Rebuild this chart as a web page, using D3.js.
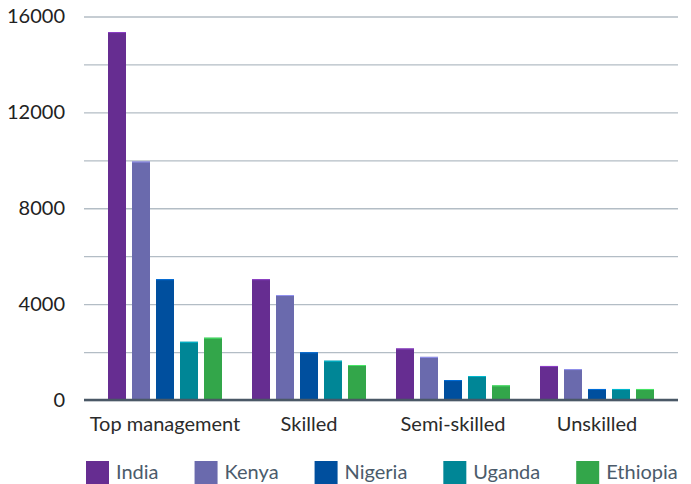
<!DOCTYPE html>
<html>
<head>
<meta charset="utf-8">
<script src="https://cdn.jsdelivr.net/npm/d3@7"></script>
<style>
  body { margin: 0; background: #fff; }
  svg text { font-family: "Lato", "Noto Sans", sans-serif; }
</style>
</head>
<body>
<div id="chart"></div>
<script>
var categories = ["Top management", "Skilled", "Semi-skilled", "Unskilled"];
var countries = ["India", "Kenya", "Nigeria", "Uganda", "Ethiopia"];
var colors = ["#662d91", "#6a6aad", "#004f9e", "#008696", "#33a64a"];

// values per country, in category order
var india = [15350, 5040, 2150, 1420];
var kenya = [9950, 4380, 1800, 1290];
var nigeria = [5040, 1990, 830, 460];
var uganda = [2430, 1640, 1000, 460];
var ethiopia = [2600, 1460, 610, 460];

var yTicks = [0, 2000, 4000, 6000, 8000, 10000, 12000, 14000, 16000];

var series = [india, kenya, nigeria, uganda, ethiopia];

var width = 691;
var height = 484;
var plotLeft = 84, plotRight = 678, plotTop = 16.5, plotBottom = 400;

var svg = d3.select("#chart")
    .append("svg")
    .attr("width", width)
    .attr("height", height);

var x0 = d3.scaleBand()
    .domain(categories)
    .range([plotLeft, plotRight])
    .paddingInner(30 / 144)
    .paddingOuter(24 / 144);

var x1 = d3.scaleBand()
    .domain(countries)
    .range([0, x0.bandwidth()])
    .paddingInner(0.25)
    .paddingOuter(0);

var y = d3.scaleLinear()
    .domain([0, 16000])
    .range([plotBottom, plotTop]);

// gridlines + labels
var yAxis = d3.axisLeft(y)
    .tickValues(yTicks)
    .tickSize(-(plotRight - plotLeft))
    .tickPadding(19)
    .tickFormat(function(d) { return d % 4000 === 0 ? d : ""; });

var gy = svg.append("g")
    .attr("transform", "translate(" + plotLeft + ",0)")
    .call(yAxis);
gy.select(".domain").remove();
gy.selectAll(".tick line")
    .attr("stroke", "#b3bdc5")
    .attr("stroke-width", 1.3);
gy.selectAll(".tick text")
    .attr("fill", "#222")
    .style("font-size", "20px");

// bars
var groups = svg.append("g")
    .selectAll("g")
    .data(categories)
    .join("g")
    .attr("transform", function(d) { return "translate(" + x0(d) + ",0)"; });

function barData(d, i) {
    return countries.map(function(c, j) {
        return { country: c, value: series[j][i], color: colors[j] };
    });
}

groups.selectAll("rect.bar")
    .data(barData)
    .join("rect")
    .attr("class", "bar")
    .attr("x", function(d) { return x1(d.country); })
    .attr("y", function(d) { return y(d.value); })
    .attr("width", x1.bandwidth())
    .attr("height", function(d) { return plotBottom - y(d.value); })
    .attr("fill", function(d) { return d.color; });

// lighter top edge on each bar
groups.selectAll("rect.edge")
    .data(barData)
    .join("rect")
    .attr("class", "edge")
    .attr("x", function(d) { return x1(d.country); })
    .attr("y", function(d) { return y(d.value); })
    .attr("width", x1.bandwidth())
    .attr("height", 1)
    .attr("fill", function(d) { return d3.color(d.color).brighter(0.9); });

// baseline
svg.append("line")
    .attr("x1", plotLeft)
    .attr("x2", plotRight)
    .attr("y1", y(0))
    .attr("y2", y(0))
    .attr("stroke", "#4a5866")
    .attr("stroke-width", 2.5);

// category labels
svg.append("g")
    .selectAll("text")
    .data(categories)
    .join("text")
    .attr("x", function(d) { return x0(d) + x0.bandwidth() / 2; })
    .attr("y", 431)
    .attr("text-anchor", "middle")
    .attr("fill", "#2b2b2b")
    .style("font-size", "20px")
    .text(function(d) { return d; });

// legend
var legend = svg.append("g");
var lx = 86;
countries.forEach(function(c, i) {
    legend.append("rect")
        .attr("x", lx)
        .attr("y", 461)
        .attr("width", 23)
        .attr("height", 23)
        .attr("fill", colors[i]);
    var t = legend.append("text")
        .attr("x", lx + 30)
        .attr("y", 479)
        .attr("fill", "#4b5b6b")
        .style("font-size", "20px")
        .text(c);
    lx = lx + 30 + t.node().getComputedTextLength() + 36;
});
</script>
</body>
</html>
